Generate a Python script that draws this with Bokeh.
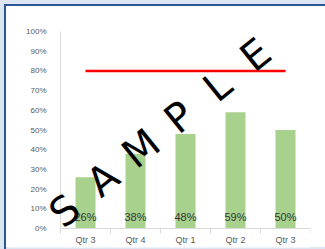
from bokeh.plotting import figure
from bokeh.models import Range1d, FixedTicker, NumeralTickFormatter, Label
from bokeh.core.properties import value
from bokeh.embed import file_html
from bokeh.resources import INLINE
import math

categories = ["Qtr 3", "Qtr 4", "Qtr 1", "Qtr 2", "Qtr 3"]
actual = [0.26, 0.38, 0.48, 0.59, 0.50]
target = [0.80, 0.80, 0.80, 0.80, 0.80]
y_ticks = [0.0, 0.1, 0.2, 0.3, 0.4, 0.5, 0.6, 0.7, 0.8, 0.9, 1.0]
watermark = ["S", "A", "M", "P", "L", "E"]

xs = [i + 0.5 for i in range(len(categories))]
labels = [f"{round(v * 100)}%" for v in actual]

# the frame covers almost the whole canvas so the watermark and axis labels are not clipped;
# both axes are pinned at 0 with fixed_location
p = figure(frame_width=302, frame_height=224,
           min_border_left=8, min_border_right=15, min_border_top=23, min_border_bottom=2,
           x_range=Range1d(-1.04, len(categories)), y_range=Range1d(-0.0964, 1.0406),
           output_backend="svg", toolbar_location=None)
p.outline_line_color = None
p.xgrid.visible = False
p.ygrid.visible = False
p.background_fill_color = "white"
p.border_fill_alpha = 0
p.styles = {
    "background-color": "white",
    "box-shadow": "inset 4px 4px 0 0 #dce6f2, inset 6px 6px 0 0 #2f5597, inset 0 -2px 0 0 #dce6f2",
}

FONT = "Liberation Sans"
# y axis
p.yaxis.fixed_location = 0
p.yaxis.bounds = (0, 1)
p.yaxis.ticker = FixedTicker(ticks=y_ticks)
p.yaxis.formatter = NumeralTickFormatter(format="0%")
p.yaxis.axis_line_color = "#d9d9d9"
p.yaxis.major_tick_line_color = None
p.yaxis.minor_tick_line_color = None
p.yaxis.major_label_text_font_size = "8px"
p.yaxis.major_label_text_color = "#595959"
p.yaxis.major_label_text_font = FONT
p.yaxis.major_label_standoff = 8

# x axis
p.xaxis.fixed_location = 0
p.xaxis.bounds = (0, len(categories))
p.xaxis.ticker = FixedTicker(ticks=xs, minor_ticks=list(range(len(categories) + 1)))
p.xaxis.major_label_overrides = {x: c for x, c in zip(xs, categories)}
p.xaxis.axis_line_color = "#d9d9d9"
p.xaxis.major_tick_line_color = None
p.xaxis.minor_tick_line_color = "#d9d9d9"
p.xaxis.minor_tick_out = 5
p.xaxis.minor_tick_in = 0
p.xaxis.major_label_text_font_size = "9px"
p.xaxis.major_label_text_color = "#595959"
p.xaxis.major_label_text_font = FONT
p.xaxis.major_label_standoff = 0

p.vbar(x=xs, top=actual, width=0.4, fill_color="#a9d18e", line_color=None)
p.line(x=xs, y=target, line_color="#ff0000", line_width=2.5)

p.text(x=xs, y=[0] * len(xs), text=labels, text_align="center", text_baseline="middle",
       y_offset=-12, text_font_size="11px", text_color="#333333", text_font=value(FONT))

# watermark
n = len(watermark)
x0, y0, x1, y1 = 0.08, 0.091, 3.9, 0.883
for i, ch in enumerate(watermark):
    p.add_layout(Label(x=x0 + (x1 - x0) * i / (n - 1), y=y0 + (y1 - y0) * i / (n - 1),
                       text=ch, angle=math.radians(39), text_align="center",
                       text_baseline="middle", text_font_size="40px", text_color="black",
                       text_font="DejaVu Sans"))

open("out.html", "w").write(file_html(p, INLINE))
